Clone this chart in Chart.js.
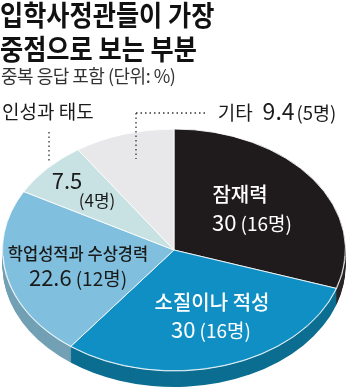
<!DOCTYPE html>
<html>
<head>
<meta charset="utf-8">
<script src="https://cdn.jsdelivr.net/npm/chart.js@4"></script>
<style>
  body { margin: 0; background: #fff; }
  #wrap { position: relative; width: 350px; height: 389px; overflow: hidden; }
  .t { position: absolute; left: 0; font-family: "Noto Sans CJK KR", sans-serif; white-space: nowrap; color: #111; line-height: 1; transform-origin: left top; }
  #t1 { top: 0px; font-size: 28px; font-weight: 700; transform: scaleX(0.9); }
  #t2 { top: 34px; font-size: 28px; font-weight: 700; transform: scaleX(0.9); }
  #sub { top: 66px; left: 1px; font-size: 18px; letter-spacing: -0.5px; color: #333; }
  canvas { position: absolute; left: 0; top: 0; }
</style>
</head>
<body>
<div id="wrap">
  <canvas id="canvas" width="350" height="389"></canvas>
  <div class="t" id="t1">입학사정관들이 가장</div>
  <div class="t" id="t2">중점으로 보는 부분</div>
  <div class="t" id="sub">중복 응답 포함 (단위: %)</div>
</div>
<script>
var categories = ['잠재력', '소질이나 적성', '학업성적과 수상경력', '인성과 태도', '기타'];
var percents = [30, 30, 22.6, 7.5, 9.4];
var counts = [16, 16, 12, 4, 5];
var colors = ['#1f1b1c', '#108fc4', '#80c0de', '#c8e1e3', '#e8e8ea'];
var sideColors = ['#2b2627', '#0c6e91', '#73a0b4', '#9fb8ba', '#bdbdbf'];

// ellipse placement of the pie
var CY = 250, RY = 121, DEPTH = 16;
var FONT = '"Noto Sans CJK KR", sans-serif';

function drawParts(ctx, parts, x, y, color) {
  var w = 0;
  parts.forEach(function(p) {
    ctx.font = (p.weight || 400) + ' ' + p.size + 'px ' + FONT;
    w += ctx.measureText(p.t).width + (p.gap || 0);
  });
  var cx = x - w / 2;
  ctx.fillStyle = color;
  ctx.textBaseline = 'alphabetic';
  ctx.textAlign = 'left';
  parts.forEach(function(p) {
    ctx.font = (p.weight || 400) + ' ' + p.size + 'px ' + FONT;
    ctx.fillText(p.t, cx, y + (p.dy || 0));
    cx += ctx.measureText(p.t).width + (p.gap || 0);
  });
}

function dotted(ctx, x1, y1, x2, y2) {
  ctx.save();
  ctx.strokeStyle = '#333';
  ctx.lineWidth = 1.3;
  ctx.setLineDash([1.5, 3]);
  ctx.beginPath();
  ctx.moveTo(x1, y1);
  ctx.lineTo(x2, y2);
  ctx.stroke();
  ctx.restore();
}

var ellipsePie = {
  id: 'ellipsePie',
  beforeDatasetsDraw: function(chart) {
    var ctx = chart.ctx;
    var arcs = chart.getDatasetMeta(0).data;
    var cx = arcs[0].x, cy = arcs[0].y, r = arcs[0].outerRadius;
    var k = RY / r;
    for (var d = DEPTH; d >= 1; d--) {
      ctx.save();
      ctx.translate(0, CY + d);
      ctx.scale(1, k);
      ctx.translate(0, -cy);
      arcs.forEach(function(a, i) {
        ctx.beginPath();
        ctx.moveTo(cx, cy);
        ctx.arc(cx, cy, r, a.startAngle, a.endAngle);
        ctx.closePath();
        ctx.fillStyle = sideColors[i];
        ctx.fill();
      });
      ctx.restore();
    }
    ctx.save();
    ctx.translate(0, CY);
    ctx.scale(1, k);
    ctx.translate(0, -cy);
  },
  afterDatasetsDraw: function(chart) {
    var ctx = chart.ctx;
    var arcs = chart.getDatasetMeta(0).data;
    var cx = arcs[0].x, cy = arcs[0].y, r = arcs[0].outerRadius;
    // light rim on the front edge
    ctx.beginPath();
    ctx.arc(cx, cy, r - 0.5, 0.05, Math.PI - 0.05);
    ctx.strokeStyle = 'rgba(255,255,255,0.55)';
    ctx.lineWidth = 1;
    ctx.stroke();
    ctx.restore();

    // labels
    drawParts(ctx, [{t: categories[0], size: 20, weight: 500}], 240, 202, '#fff');
    drawParts(ctx, [{t: String(percents[0]), size: 22, gap: 4}, {t: '(' + counts[0] + '명)', size: 19}], 252, 231, '#fff');

    drawParts(ctx, [{t: categories[1], size: 20, weight: 500}], 212, 310, '#fff');
    drawParts(ctx, [{t: String(percents[1]), size: 22, gap: 4}, {t: '(' + counts[1] + '명)', size: 19}], 211, 338, '#fff');

    drawParts(ctx, [{t: categories[2], size: 16.5, weight: 500}], 78, 260, '#1a1a1a');
    drawParts(ctx, [{t: String(percents[2]), size: 22, gap: 4}, {t: '(' + counts[2] + '명)', size: 19}], 78, 286, '#1a1a1a');

    drawParts(ctx, [{t: String(percents[3]), size: 22}], 67, 189, '#1a1a1a');
    drawParts(ctx, [{t: '(' + counts[3] + '명)', size: 17}], 97, 207, '#1a1a1a');

    ctx.textAlign = 'left';
    ctx.fillStyle = '#1a1a1a';
    ctx.font = '400 19px ' + FONT;
    ctx.fillText(categories[3], 2, 119);

    drawParts(ctx, [{t: categories[4], size: 19, gap: 10}, {t: String(percents[4]), size: 23, gap: 2}, {t: '(' + counts[4] + '명)', size: 18.5}], 277, 120, '#1a1a1a');

    dotted(ctx, 49, 132, 49, 162);
    dotted(ctx, 136, 113, 205, 113);
    dotted(ctx, 136, 113, 136, 159);
  }
};

var ctx = document.getElementById('canvas');
var chart = new Chart(ctx, {
  type: 'pie',
  data: {
    labels: categories,
    datasets: [{
      data: percents,
      backgroundColor: colors,
      borderColor: '#fff',
      borderWidth: 1
    }]
  },
  options: {
    responsive: false,
    animation: false,
    layout: { padding: { left: 2, right: 4, top: 0, bottom: 45 } },
    plugins: {
      legend: { display: false },
      tooltip: { enabled: false }
    }
  },
  plugins: [ellipsePie]
});
</script>
</body>
</html>
